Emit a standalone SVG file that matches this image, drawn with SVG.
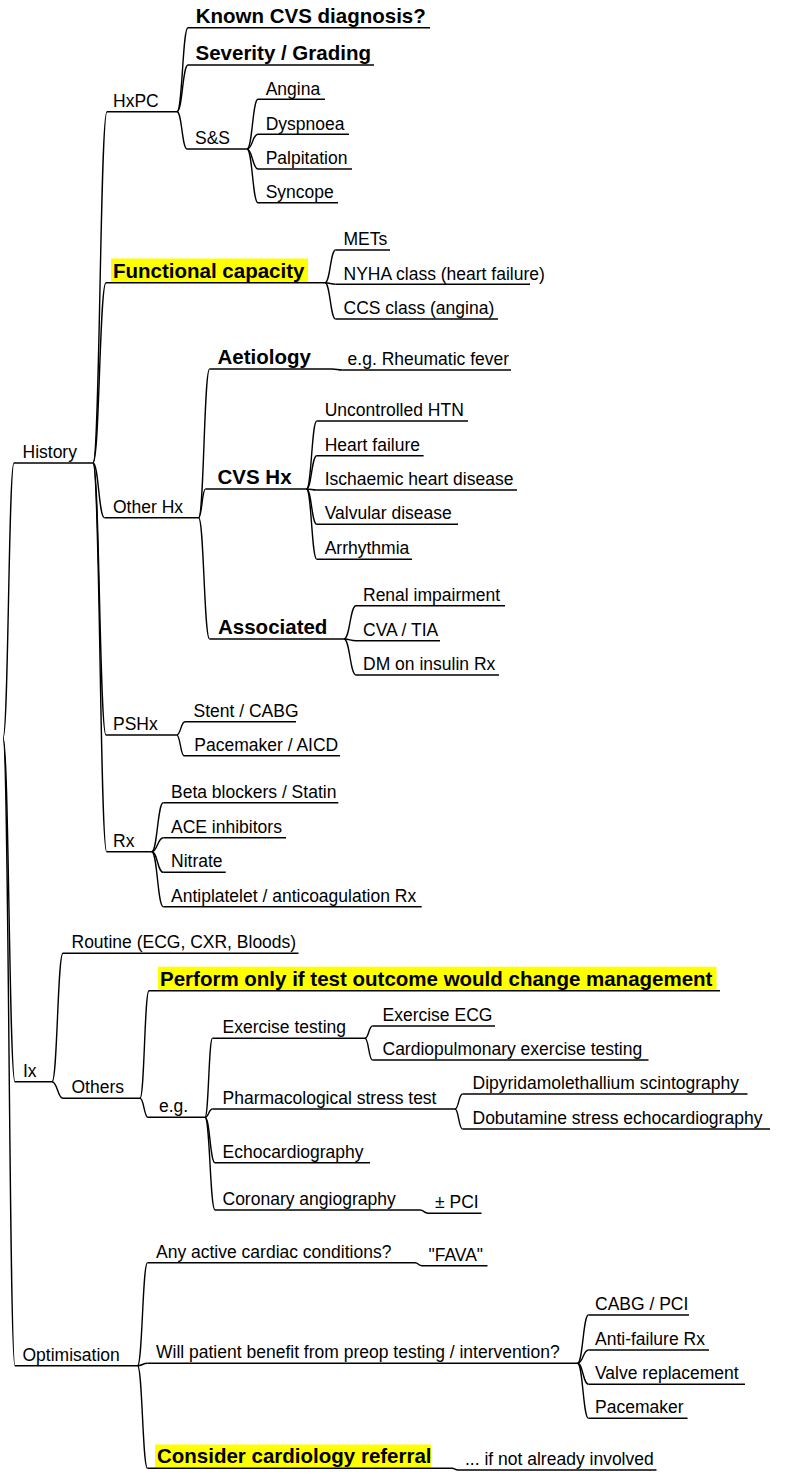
<svg xmlns="http://www.w3.org/2000/svg" width="787" height="1479" viewBox="0 0 787 1479">
<style>
  text { font-family: "Liberation Sans", Arial, sans-serif; font-size: 17.5px; fill: #000; }
  text.b { font-weight: bold; font-size: 20.5px; }
  .ul, .edge { fill: none; stroke: #000; stroke-width: 1.4; }
  .hl { fill: #ffff00; }
</style>
<rect width="787" height="1479" fill="#fff"/>

<!-- connectors: cubic curves from the end of a parent's underline to the start of each child's underline -->
<g id="connectors" class="edge">
  <!-- root -->
  <path d="M3,738 C8.5,738 8.5,463 14,463"/>
  <path d="M3,738 C9,738 9,1081.7 15,1081.7"/>
  <path d="M3,738 C9,738 9,1365.7 15,1365.7"/>
  <!-- History -->
  <path d="M93,463 C100,463 100,111.7 107,111.7"/>
  <path d="M93,463 C99.5,463 99.5,282.7 106,282.7"/>
  <path d="M93,463 C98.7,463 98.7,517.7 104.5,517.7"/>
  <path d="M93,463 C99.5,463 99.5,735 106,735"/>
  <path d="M93,463 C100,463 100,851.7 106.7,851.7"/>
  <!-- HxPC -->
  <path d="M177,111.7 C182.5,111.7 182.5,27.7 188,27.7"/>
  <path d="M177,111.7 C182.5,111.7 182.5,65 188,65"/>
  <path d="M177,111.7 C182,111.7 182,149 187,149"/>
  <!-- S&S -->
  <path d="M247,149 C252.5,149 252.5,99.3 258,99.3"/>
  <path d="M247,149 C252.5,149 252.5,134.3 258,134.3"/>
  <path d="M247,149 C252.5,149 252.5,169 258,169"/>
  <path d="M247,149 C252.5,149 252.5,202.7 258,202.7"/>
  <!-- Functional capacity -->
  <path d="M325,282.7 C330.3,282.7 330.3,250 335.6,250"/>
  <path d="M325,282.7 C330.3,282.7 330.3,284.3 335.6,284.3"/>
  <path d="M325,282.7 C330.3,282.7 330.3,319 335.6,319"/>
  <!-- Other Hx -->
  <path d="M198.6,517.7 C204,517.7 204,369 209.6,369"/>
  <path d="M198.6,517.7 C202,517.7 202,489 205.5,489"/>
  <path d="M198.6,517.7 C204,517.7 204,639 209.6,639"/>
  <!-- Aetiology -->
  <path d="M332,369 C337.2,369 337.2,370 342.5,370"/>
  <!-- CVS Hx -->
  <path d="M306.5,489 C311.6,489 311.6,421 316.8,421"/>
  <path d="M306.5,489 C311.6,489 311.6,455.7 316.8,455.7"/>
  <path d="M306.5,489 C311.6,489 311.6,490 316.8,490"/>
  <path d="M306.5,489 C311.6,489 311.6,524.3 316.8,524.3"/>
  <path d="M306.5,489 C311.6,489 311.6,559.3 316.8,559.3"/>
  <!-- Associated -->
  <path d="M344,639 C350,639 350,605.7 356,605.7"/>
  <path d="M344,639 C350,639 350,640.7 356,640.7"/>
  <path d="M344,639 C350,639 350,675 356,675"/>
  <!-- PSHx -->
  <path d="M176.7,735 C180.8,735 180.8,721.7 185,721.7"/>
  <path d="M176.7,735 C180.4,735 180.4,755.7 184,755.7"/>
  <!-- Rx -->
  <path d="M151.7,851.7 C157.5,851.7 157.5,802.7 163.3,802.7"/>
  <path d="M151.7,851.7 C157.5,851.7 157.5,837.7 163.3,837.7"/>
  <path d="M151.7,851.7 C157.5,851.7 157.5,872.3 163.3,872.3"/>
  <path d="M151.7,851.7 C157.5,851.7 157.5,906.7 163.3,906.7"/>
  <!-- Ix -->
  <path d="M52,1081.7 C57.5,1081.7 57.5,953.3 63,953.3"/>
  <path d="M52,1081.7 C57.5,1081.7 57.5,1098.3 63,1098.3"/>
  <!-- Others -->
  <path d="M140,1098.3 C144.5,1098.3 144.5,990.7 149,990.7"/>
  <path d="M140,1098.3 C144,1098.3 144,1117.3 148,1117.3"/>
  <!-- e.g. -->
  <path d="M205,1117.3 C208.7,1117.3 208.7,1038.3 212.5,1038.3"/>
  <path d="M205,1117.3 C208.7,1117.3 208.7,1109 212.5,1109"/>
  <path d="M205,1117.3 C210,1117.3 210,1162.7 215,1162.7"/>
  <path d="M205,1117.3 C210,1117.3 210,1210 215,1210"/>
  <!-- Exercise testing -->
  <path d="M365,1038.3 C368.7,1038.3 368.7,1026 372.5,1026"/>
  <path d="M365,1038.3 C368.7,1038.3 368.7,1060 372.5,1060"/>
  <!-- Pharmacological stress test -->
  <path d="M455,1109 C458.7,1109 458.7,1094 462.5,1094"/>
  <path d="M455,1109 C458.7,1109 458.7,1129 462.5,1129"/>
  <!-- Coronary angiography -->
  <path d="M420,1210 C424,1210 424,1213.3 428,1213.3"/>
  <!-- Optimisation -->
  <path d="M137.5,1365.7 C142.5,1365.7 142.5,1262.7 147.5,1262.7"/>
  <path d="M137.5,1365.7 C142.5,1365.7 142.5,1363.3 147.5,1363.3"/>
  <path d="M137.5,1365.7 C142.5,1365.7 142.5,1468.3 147.5,1468.3"/>
  <!-- Any active cardiac conditions? -->
  <path d="M415,1262.7 C418.5,1262.7 418.5,1265.7 422,1265.7"/>
  <!-- Will patient benefit ... -->
  <path d="M577.5,1363.3 C583,1363.3 583,1315 588.5,1315"/>
  <path d="M577.5,1363.3 C583,1363.3 583,1350 588.5,1350"/>
  <path d="M577.5,1363.3 C583,1363.3 583,1384.3 588.5,1384.3"/>
  <path d="M577.5,1363.3 C583,1363.3 583,1418.3 588.5,1418.3"/>
  <!-- Consider cardiology referral -->
  <path d="M452,1468.3 C455,1468.3 455,1470 458,1470"/>
</g>

<!-- History branch -->
<g id="history"><text x="22.5" y="458">History</text><path class="ul" d="M14,463 H93"/></g>
<g id="hxpc"><text x="113" y="106.5">HxPC</text><path class="ul" d="M107,111.7 H177"/></g>
<g id="known-cvs"><text class="b" x="195.7" y="22.5">Known CVS diagnosis?</text><path class="ul" d="M188,27.7 H430"/></g>
<g id="severity"><text class="b" x="195.5" y="60">Severity / Grading</text><path class="ul" d="M188,65 H374"/></g>
<g id="ss"><text x="195" y="144">S&amp;S</text><path class="ul" d="M187,149 H247"/></g>
<g id="angina"><text x="265.7" y="94.5">Angina</text><path class="ul" d="M258,99.3 H325"/></g>
<g id="dyspnoea"><text x="265.7" y="129.5">Dyspnoea</text><path class="ul" d="M258,134.3 H349"/></g>
<g id="palpitation"><text x="265.7" y="164">Palpitation</text><path class="ul" d="M258,169 H352"/></g>
<g id="syncope"><text x="265.7" y="198">Syncope</text><path class="ul" d="M258,202.7 H338"/></g>

<g id="functional-capacity"><rect class="hl" x="111" y="258.5" width="197" height="24"/><text class="b" x="113" y="277.8">Functional capacity</text><path class="ul" d="M106,282.7 H325"/></g>
<g id="mets"><text x="343.5" y="245">METs</text><path class="ul" d="M335.6,250 H390"/></g>
<g id="nyha"><text x="343.5" y="279.5">NYHA class (heart failure)</text><path class="ul" d="M335.6,284.3 H530"/></g>
<g id="ccs"><text x="343.5" y="314">CCS class (angina)</text><path class="ul" d="M335.6,319 H498"/></g>

<g id="other-hx"><text x="113" y="512.7">Other Hx</text><path class="ul" d="M104.5,517.7 H198.6"/></g>
<g id="aetiology"><text class="b" x="217.5" y="364">Aetiology</text><path class="ul" d="M209.6,369 H332"/></g>
<g id="rheumatic"><text x="347.6" y="365">e.g. Rheumatic fever</text><path class="ul" d="M342.5,370 H511"/></g>
<g id="cvs-hx"><text class="b" x="217.5" y="484">CVS Hx</text><path class="ul" d="M205.5,489 H306.5"/></g>
<g id="htn"><text x="324.7" y="416">Uncontrolled HTN</text><path class="ul" d="M316.8,421 H468"/></g>
<g id="heart-failure"><text x="324.7" y="450.7">Heart failure</text><path class="ul" d="M316.8,455.7 H423.6"/></g>
<g id="ihd"><text x="324.7" y="485">Ischaemic heart disease</text><path class="ul" d="M316.8,490 H517"/></g>
<g id="valvular"><text x="324.7" y="519.3">Valvular disease</text><path class="ul" d="M316.8,524.3 H458"/></g>
<g id="arrhythmia"><text x="324.7" y="554.3">Arrhythmia</text><path class="ul" d="M316.8,559.3 H412"/></g>
<g id="associated"><text class="b" x="218" y="634">Associated</text><path class="ul" d="M209.6,639 H344"/></g>
<g id="renal"><text x="363" y="600.7">Renal impairment</text><path class="ul" d="M356,605.7 H505"/></g>
<g id="cva"><text x="363" y="635.7">CVA / TIA</text><path class="ul" d="M356,640.7 H440"/></g>
<g id="dm"><text x="363" y="670">DM on insulin Rx</text><path class="ul" d="M356,675 H499"/></g>

<g id="pshx"><text x="113" y="730">PSHx</text><path class="ul" d="M106,735 H176.7"/></g>
<g id="stent"><text x="193.5" y="716.7">Stent / CABG</text><path class="ul" d="M185,721.7 H296"/></g>
<g id="aicd"><text x="194.3" y="750.7">Pacemaker / AICD</text><path class="ul" d="M184,755.7 H340"/></g>

<g id="rx"><text x="113" y="846.7">Rx</text><path class="ul" d="M106.7,851.7 H151.7"/></g>
<g id="beta-blockers"><text x="171" y="797.7">Beta blockers / Statin</text><path class="ul" d="M163.3,802.7 H338.3"/></g>
<g id="ace"><text x="171" y="832.7">ACE inhibitors</text><path class="ul" d="M163.3,837.7 H286"/></g>
<g id="nitrate"><text x="171" y="867.3">Nitrate</text><path class="ul" d="M163.3,872.3 H225.7"/></g>
<g id="antiplatelet"><text x="171" y="901.7">Antiplatelet / anticoagulation Rx</text><path class="ul" d="M163.3,906.7 H421.7"/></g>

<!-- Ix branch -->
<g id="ix"><text x="23" y="1076.7">Ix</text><path class="ul" d="M15,1081.7 H52"/></g>
<g id="routine"><text x="71.5" y="948.3">Routine (ECG, CXR, Bloods)</text><path class="ul" d="M63,953.3 H298.5"/></g>
<g id="others"><text x="71.5" y="1093.3">Others</text><path class="ul" d="M63,1098.3 H140"/></g>
<g id="perform-only"><rect class="hl" x="158" y="966.7" width="558.5" height="24"/><text class="b" x="160" y="985.8">Perform only if test outcome would change management</text><path class="ul" d="M149,990.7 H720"/></g>
<g id="eg"><text x="159" y="1112.3">e.g.</text><path class="ul" d="M148,1117.3 H205"/></g>
<g id="exercise-testing"><text x="222.5" y="1033.3">Exercise testing</text><path class="ul" d="M212.5,1038.3 H365"/></g>
<g id="exercise-ecg"><text x="382.5" y="1021">Exercise ECG</text><path class="ul" d="M372.5,1026 H495"/></g>
<g id="cpet"><text x="382.5" y="1055">Cardiopulmonary exercise testing</text><path class="ul" d="M372.5,1060 H648.5"/></g>
<g id="pharmacological"><text x="222.5" y="1104">Pharmacological stress test</text><path class="ul" d="M212.5,1109 H455"/></g>
<g id="dipyridamole"><text x="472.5" y="1089">Dipyridamolethallium scintography</text><path class="ul" d="M462.5,1094 H747.5"/></g>
<g id="dobutamine"><text x="472.5" y="1124">Dobutamine stress echocardiography</text><path class="ul" d="M462.5,1129 H770"/></g>
<g id="echocardiography"><text x="222.5" y="1157.7">Echocardiography</text><path class="ul" d="M215,1162.7 H370"/></g>
<g id="coronary"><text x="222.5" y="1205">Coronary angiography</text><path class="ul" d="M215,1210 H420"/></g>
<g id="pci"><text x="435" y="1208.3">± PCI</text><path class="ul" d="M428,1213.3 H481.5"/></g>

<!-- Optimisation branch -->
<g id="optimisation"><text x="22.5" y="1360.7">Optimisation</text><path class="ul" d="M15,1365.7 H137.5"/></g>
<g id="active-conditions"><text x="156" y="1257.7">Any active cardiac conditions?</text><path class="ul" d="M147.5,1262.7 H415"/></g>
<g id="fava"><text x="428.5" y="1260.7">"FAVA"</text><path class="ul" d="M422,1265.7 H487.5"/></g>
<g id="benefit"><text x="156" y="1358.3">Will patient benefit from preop testing / intervention?</text><path class="ul" d="M147.5,1363.3 H577.5"/></g>
<g id="cabg-pci"><text x="595" y="1310">CABG / PCI</text><path class="ul" d="M588.5,1315 H689"/></g>
<g id="anti-failure"><text x="595" y="1345">Anti-failure Rx</text><path class="ul" d="M588.5,1350 H709"/></g>
<g id="valve"><text x="595" y="1379.3">Valve replacement</text><path class="ul" d="M588.5,1384.3 H745"/></g>
<g id="pacemaker"><text x="595" y="1413.3">Pacemaker</text><path class="ul" d="M588.5,1418.3 H687.5"/></g>
<g id="referral"><rect class="hl" x="155" y="1444.5" width="276" height="23.5"/><text class="b" x="157" y="1463.3">Consider cardiology referral</text><path class="ul" d="M147.5,1468.3 H452"/></g>
<g id="not-involved"><text x="465" y="1465">... if not already involved</text><path class="ul" d="M458,1470 H656.5"/></g>
</svg>
